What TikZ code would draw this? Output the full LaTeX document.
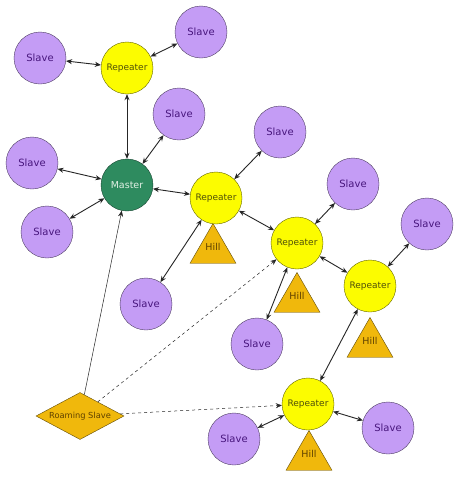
\documentclass[tikz,border=0pt]{standalone}
\usepackage{fontspec}
\setmainfont{DejaVu Sans}
\usepackage{tikz}
\usetikzlibrary{arrows.meta,shapes.geometric}
\definecolor{slavefill}{RGB}{196,156,245}
\definecolor{slavetext}{RGB}{72,22,125}
\definecolor{masterfill}{RGB}{46,139,95}
\definecolor{mastertext}{RGB}{225,240,228}
\definecolor{repfill}{RGB}{252,252,0}
\definecolor{reptext}{RGB}{80,80,10}
\definecolor{hillfill}{RGB}{240,184,12}
\definecolor{hilltext}{RGB}{95,65,0}
\tikzset{
  slave/.style={draw=slavefill!40!black, circle, fill=slavefill, minimum size=52pt, inner sep=0pt, text=slavetext, font=\fontsize{10}{12}\selectfont},
  master/.style={draw=masterfill!50!black, circle, fill=masterfill, minimum size=52pt, inner sep=0pt, text=mastertext, font=\fontsize{9.5}{11}\selectfont},
  repeater/.style={draw=repfill!40!black, circle, fill=repfill, minimum size=52pt, inner sep=0pt, text=reptext, font=\fontsize{9}{11}\selectfont},
  hill/.style={draw=hillfill!40!black, regular polygon, regular polygon sides=3, fill=hillfill, minimum size=53pt, inner sep=0pt, text=hilltext, font=\fontsize{9.5}{11}\selectfont},
  roaming/.style={draw=hillfill!40!black, diamond, aspect=1.87, fill=hillfill, minimum width=88pt, minimum height=47pt, inner sep=0pt, text=hilltext, font=\fontsize{8.3}{10}\selectfont},
  link/.style={{Stealth[length=6pt,width=5pt]}-{Stealth[length=6pt,width=5pt]}, line width=0.9pt, draw=black!85},
  roamlink/.style={-{Stealth[length=6pt,width=5pt]}, line width=0.5pt, draw=black!85},
  dashedlink/.style={-{Stealth[length=6pt,width=5pt]}, line width=0.5pt, dashed, draw=black!85}
}
\begin{document}
\begin{tikzpicture}[x=1pt,y=-1pt]
  \useasboundingbox[fill=white] (0,0) rectangle (458,480);

  \node[slave] (slaveA) at (40,58) {Slave};
  \node[repeater] (repTop) at (127,68) {Repeater};
  \node[slave] (slaveB) at (201,32) {Slave};
  \node[slave] (slaveC) at (179,114) {Slave};
  \node[slave] (slaveD) at (32,163) {Slave};
  \node[master] (master) at (127,185) {Master};
  \node[slave] (slaveE) at (47,232) {Slave};

  \node[hill] (hillA) at (213,250) {\raisebox{7pt}{Hill}};
  \node[repeater] (repA) at (216,198) {Repeater};
  \node[slave] (slaveF) at (280,132) {Slave};
  \node[slave] (slaveG) at (146,304) {Slave};

  \node[hill] (hillB) at (297,299) {\raisebox{7pt}{Hill}};
  \node[repeater] (repB) at (297,243) {Repeater};
  \node[slave] (slaveH) at (353,184) {Slave};
  \node[slave] (slaveI) at (257,344) {Slave};

  \node[hill] (hillC) at (370,344) {\raisebox{7pt}{Hill}};
  \node[repeater] (repC) at (370,286) {Repeater};
  \node[slave] (slaveJ) at (427,224) {Slave};

  \node[hill] (hillD) at (309,457) {\raisebox{7pt}{Hill}};
  \node[repeater] (repD) at (308,404) {Repeater};
  \node[slave] (slaveK) at (234,439) {Slave};
  \node[slave] (slaveL) at (388,428) {Slave};

  \node[roaming] (roam) at (80,416) {Roaming Slave};

  \draw[link] (slaveA) -- (repTop);
  \draw[link] (slaveB) -- (repTop);
  \draw[link] (repTop) -- (master);
  \draw[link] (slaveC) -- (master);
  \draw[link] (slaveD) -- (master);
  \draw[link] (slaveE) -- (master);
  \draw[link] (master) -- (repA);
  \draw[link] (slaveF) -- (repA);
  \draw[link] (repA) -- (slaveG);
  \draw[link] (repA) -- (repB);
  \draw[link] (slaveH) -- (repB);
  \draw[link] (repB) -- (slaveI);
  \draw[link] (repB) -- (repC);
  \draw[link] (slaveJ) -- (repC);
  \draw[link] (repC) -- (repD);
  \draw[link] (repD) -- (slaveK);
  \draw[link] (repD) -- (slaveL);
  \draw[roamlink] (roam) -- (master);
  \draw[dashedlink] (roam) -- (repB);
  \draw[dashedlink] (roam) -- (repD);
\end{tikzpicture}
\end{document}
